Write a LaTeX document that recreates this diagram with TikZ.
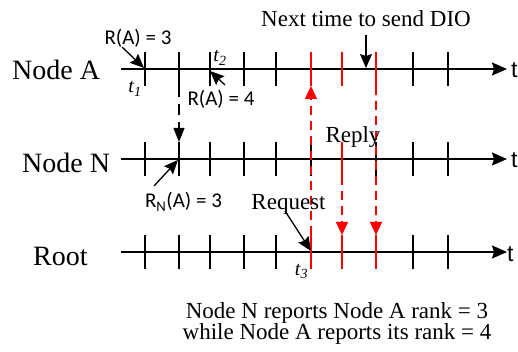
\documentclass[tikz,border=0pt]{standalone}
\usepackage{fontspec}
\setmainfont{Liberation Serif}
\newfontfamily\calib{Carlito}
\newfontfamily\arialish{Liberation Sans}
\usetikzlibrary{arrows.meta}
\tikzset{
  axisline/.style={line width=1.6pt,-{Stealth[length=15pt,width=13pt,inset=2pt]}},
  tickline/.style={line width=1.3pt},
  redtick/.style={line width=1.3pt,red},
  reddash/.style={line width=1.3pt,red,dash pattern=on 9pt off 6pt,-{Triangle[length=13pt,width=12pt]}},
  blackdash/.style={line width=1.3pt,dash pattern=on 11pt off 7pt,-{Triangle[length=14pt,width=11pt]}},
  pointer/.style={line width=1.3pt,-{Stealth[length=14pt,width=12pt,inset=2pt]}},
  bigname/.style={font=\fontsize{28}{30}\selectfont,inner sep=0pt,anchor=base west},
  axislbl/.style={font=\arialish\fontsize{23}{25}\selectfont,inner sep=0pt,anchor=base west},
  lbl/.style={font=\fontsize{23}{25}\selectfont,inner sep=0pt,anchor=base},
  sanslbl/.style={font=\calib\fontsize{21}{23}\selectfont,inner sep=0pt,anchor=base},
  tlbl/.style={font=\fontsize{20}{22}\selectfont\itshape,inner sep=0pt,anchor=base},
}
\begin{document}
\begin{tikzpicture}[x=1pt,y=-1pt]
\useasboundingbox (0,0) rectangle (518,352);
% axes
\foreach \n/\yy in {A/69,N/159,R/252}{
  \coordinate (\n0) at (121,\yy);
  \coordinate (\n1) at (507,\yy);
  \draw[axisline] (\n0) -- (\n1);
  \foreach \x in {145,179,210,244,276,311,342,376,413,448}{
    \coordinate (\n-\x-t) at (\x,\yy-17);
    \coordinate (\n-\x-b) at (\x,\yy+17);
  }
}
% black ticks
\foreach \x in {145,179,210,244,276,413,448}{
  \draw[tickline] (A-\x-t) -- (A-\x-b);
  \draw[tickline] (N-\x-t) -- (N-\x-b);
  \draw[tickline] (R-\x-t) -- (R-\x-b);
}
\draw[tickline] (N-311-t) -- (N-311-b);
\draw[tickline] (N-376-t) -- (N-376-b);
% red ticks
\foreach \x in {311,342,376}{
  \draw[redtick] (A-\x-t) -- (A-\x-b);
  \draw[redtick] (R-\x-t) -- (R-\x-b);
}
\draw[redtick] (N-342-t) -- (N-342-b);
% red dashed arrows
\draw[reddash] (R-311-t) -- (A-311-b);
\draw[reddash] (N-342-b) -- (R-342-t);
\draw[reddash] (A-376-b) -- (R-376-t);
% black dashed arrow
\draw[blackdash] (A-179-b) -- (N-179-t);
% labels
\node[bigname] (lA) at (12,80) {Node A};
\node[bigname] (lN) at (22,173) {Node N};
\node[bigname] (lR) at (33,265) {Root};
\node[axislbl] (tA) at (511,78) {t};
\node[axislbl] (tN) at (511,168) {t};
\node[axislbl] (tR) at (507,261) {t};
\node[lbl] (next) at (366,27) {Next time to send DIO};
\node[lbl] (reply) at (353,143) {Reply};
\node[lbl] (req) at (288.5,210) {Request};
\node[lbl] (foot1) at (337,318) {Node N reports Node A rank = 3};
\node[lbl] (foot2) at (337,339) {while Node A reports its rank = 4};
\node[sanslbl] (ra3) at (138,45) {R(A) = 3};
\node[sanslbl] (ra4) at (221,106) {R(A) = 4};
\node[sanslbl] (rna) at (183.5,208) {R\textsubscript{N}(A) = 3};
\node[tlbl] (t1) at (135,93) {t\textsubscript{1}};
\node[tlbl] (t2) at (220,62) {t\textsubscript{2}};
\node[tlbl] (t3) at (301.5,275) {t\textsubscript{3}};
% pointers
\coordinate (nextS) at (366,35);
\coordinate (nextE) at (366,68);
\draw[pointer] (nextS) -- (nextE);
\coordinate (ra3S) at (122,47);
\coordinate (ra3E) at (144,68);
\draw[pointer] (ra3S) -- (ra3E);
\coordinate (ra4S) at (225,85);
\coordinate (ra4E) at (210,71);
\draw[pointer] (ra4S) -- (ra4E);
\coordinate (rnaS) at (154,186);
\coordinate (rnaE) at (178,160);
\draw[pointer] (rnaS) -- (rnaE);
\coordinate (reqS) at (285,211);
\coordinate (reqE) at (311,251);
\draw[pointer] (reqS) -- (reqE);
\end{tikzpicture}
\end{document}
